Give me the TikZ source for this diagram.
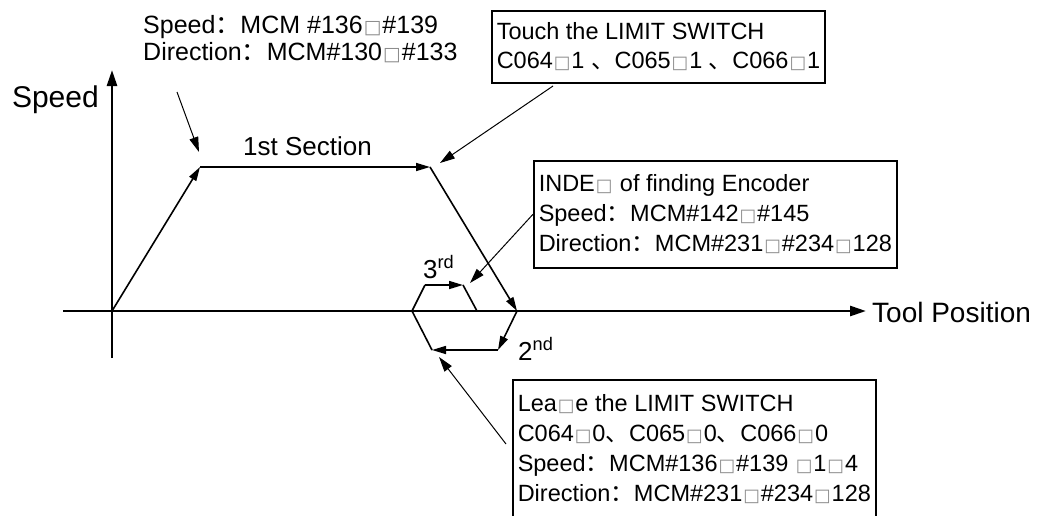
\documentclass[tikz,border=0pt]{standalone}
\usepackage{fontspec}
\setmainfont{Liberation Sans}
\newfontfamily\cjkfont{Noto Sans CJK SC}
\newfontfamily\symfont{DejaVu Sans}
\usetikzlibrary{arrows.meta,positioning}
% missing glyph box, full-width colon and comma
\newcommand{\nb}{{\kern0.04em\color{black!45}\symfont\scalebox{0.75}{□}\kern0.04em}}
\newcommand{\fc}{{\cjkfont ：}}
\newcommand{\dn}{{\cjkfont 、}}
\tikzset{
  axisline/.style={line width=2.6pt, -{Triangle[length=16pt,width=10pt]}},
  profline/.style={line width=1.6pt, -{Triangle[length=14pt,width=8pt]}},
  profplain/.style={line width=1.6pt},
  leadline/.style={line width=1pt, -{Triangle[length=15pt,width=9pt]}},
  notebox/.style={draw, line width=1.5pt, anchor=north west, align=left,
    inner xsep=5pt, font=\fontsize{23.5}{30}\selectfont},
  notetext/.style={anchor=base west, align=left, inner sep=0pt,
    font=\fontsize{25}{27}\selectfont},
  bigtext/.style={font=\fontsize{28}{32}\selectfont, inner sep=0pt},
  midtext/.style={font=\fontsize{26}{30}\selectfont, inner sep=0pt},
}

\begin{document}
\begin{tikzpicture}[x=1pt, y=-1pt]
  \clip (0,0) rectangle (1040,515);
  \useasboundingbox (0,0) rectangle (1040,515);

  % axes
  \coordinate (yb) at (112,358);
  \coordinate (yt) at (112,70);
  \coordinate (xl) at (63,311);
  \coordinate (xr) at (866,311);
  \draw[axisline] (yb) -- (yt);
  \draw[axisline] (xl) -- (xr);
  \node[bigtext, font=\fontsize{30}{34}\selectfont, anchor=base east] (speedlbl) at (99,107) {Speed};
  \node[bigtext, anchor=west] (poslbl) at (872,312) {Tool Position};

  % speed profile
  \coordinate (o) at (112,311);
  \coordinate (a) at (200,167);
  \coordinate (b) at (430,167);
  \coordinate (c) at (517,311);
  \coordinate (d) at (498,350);
  \coordinate (e) at (432,350);
  \coordinate (f) at (412,311);
  \coordinate (g) at (425,285);
  \coordinate (h) at (463,285);
  \coordinate (i) at (477,311);
  \draw[profline] (o) -- (a);
  \draw[profline] (a) -- (b);
  \draw[profline] (b) -- (c);
  \draw[profline] (c) -- (d);
  \draw[profline] (d) -- (e);
  \draw[profplain] (e) -- (f) -- (g);
  \draw[profline] (g) -- (h);
  \draw[profplain] (h) -- (i);
  \node[midtext, anchor=base west] (sec1) at (243,155) {1st Section};
  \node[midtext, anchor=base west] (sec3) at (423,278) {3\textsuperscript{rd}};
  \node[midtext, anchor=base west] (sec2) at (518,360) {2\textsuperscript{nd}};

  % notes
  \node[notetext] (note1) at (143,60) {Speed\fc MCM \#136\nb\#139\\Direction\fc MCM\#130\nb\#133};
  \node[notebox, font=\fontsize{23.5}{29}\selectfont, minimum height=72pt] (touchbox) at (491,10)
    {Touch the LIMIT SWITCH\\C064\nb1 \dn C065\nb1 \dn C066\nb1};
  \node[notebox, minimum height=107pt] (indexbox) at (533,160)
    {INDE\nb\ of finding Encoder\\Speed\fc MCM\#142\nb\#145\\Direction\fc MCM\#231\nb\#234\nb128};
  \node[notebox, minimum height=138pt] (leavebox) at (512,379)
    {Lea\nb e the LIMIT SWITCH\\C064\nb0\dn C065\nb0\dn C066\nb0\\Speed\fc MCM\#136\nb\#139 \nb1\nb4\\Direction\fc MCM\#231\nb\#234\nb128};

  % leaders
  \coordinate (l1) at (177,92);
  \coordinate (l1e) at (199,152);
  \coordinate (l2) at (553,86);
  \coordinate (l2e) at (440,163);
  \coordinate (l3e) at (470,283);
  \coordinate (l4) at (506,444);
  \coordinate (l4e) at (439,357);
  \draw[leadline] (l1) -- (l1e);
  \draw[leadline] (l2) -- (l2e);
  \draw[leadline] (indexbox.west) -- (l3e);
  \draw[leadline] (l4) -- (l4e);
\end{tikzpicture}
\end{document}
